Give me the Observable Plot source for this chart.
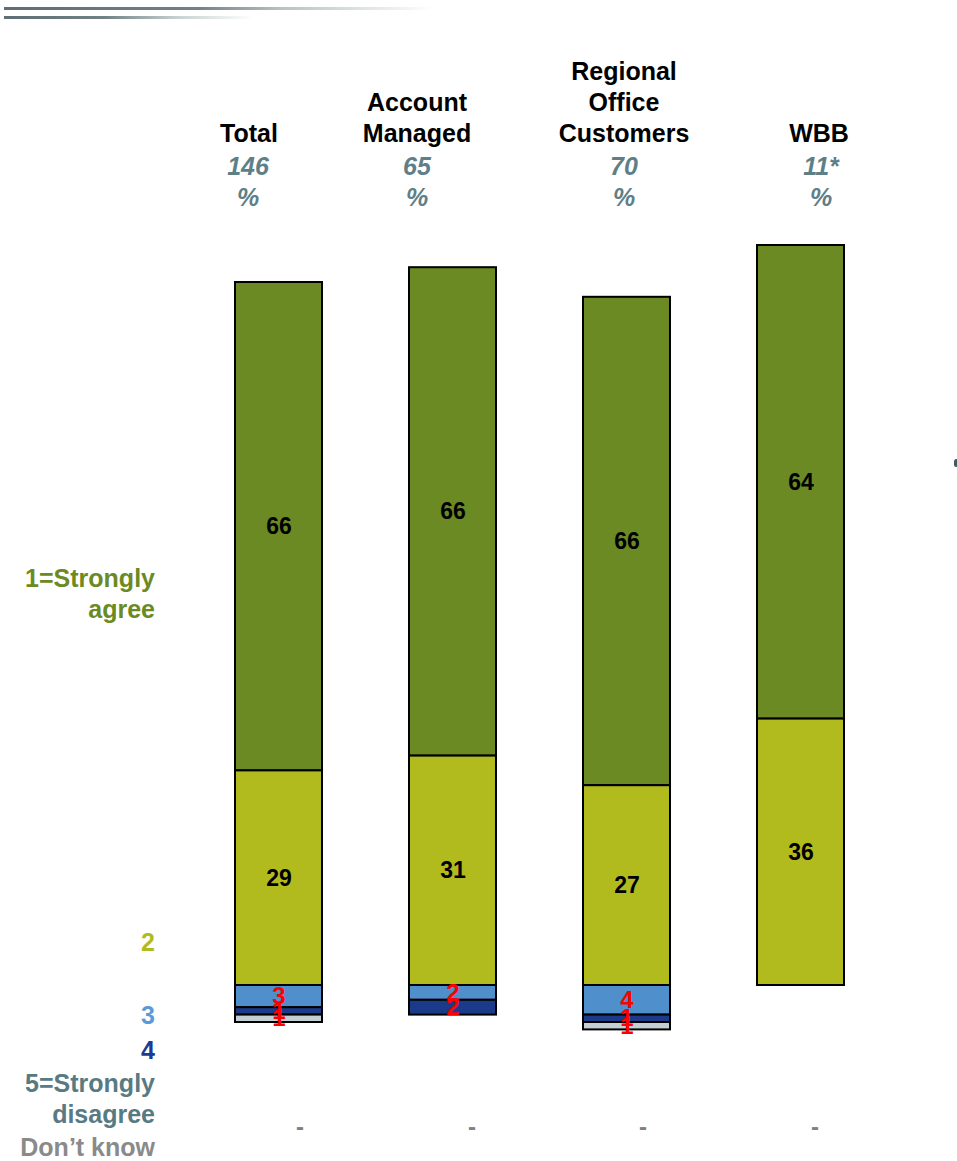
<!DOCTYPE html>
<html>
<head>
<meta charset="utf-8">
<script src="https://cdn.jsdelivr.net/npm/d3@7"></script>
<script src="https://cdn.jsdelivr.net/npm/@observablehq/plot@0.6"></script>
<style>
  html, body { margin: 0; padding: 0; background: #fff; }
  #wrap { position: relative; width: 957px; height: 1161px; overflow: hidden; font-family: "Liberation Sans", Arial, sans-serif; }
  #chart { position: absolute; left: 0; top: 0; }
  .deco { position: absolute; height: 3px; }
  .leg { position: absolute; right: 802px; text-align: right; font-weight: bold; font-size: 25px; line-height: 31px; white-space: nowrap; }
</style>
</head>
<body>
<div id="wrap">
  <div class="deco" style="left:4px; top:7px; width:430px; background:linear-gradient(to right,#5d6f74 0%,#6f8286 45%,#b9c4c4 65%,rgba(255,255,255,0) 100%);"></div>
  <div class="deco" style="left:4px; top:16px; width:250px; background:linear-gradient(to right,#5d6f74 0%,#6f8286 40%,#c9d2d2 70%,rgba(255,255,255,0) 100%);"></div>
  <div id="chart"></div>
  <div id="legend"></div>
  <div style="position:absolute; left:954px; top:459px; width:5px; height:8px; border-radius:3px; background:#3f5a60;"></div>
</div>
<script>
// ---- data ----
const groups = ["Total", "Account Managed", "Regional Office Customers", "WBB"];
const groupLabels = ["Total", "Account\nManaged", "Regional\nOffice\nCustomers", "WBB"];
const baseSizes = ["146", "65", "70", "11*"];
const stronglyAgree = [66, 66, 66, 64];
const agree = [29, 31, 27, 36];
const neutral = [3, 2, 4, 0];
const disagree = [1, 2, 1, 0];
const stronglyDisagree = [1, 0, 1, 0];
const dontKnow = ["-", "-", "-", "-"];

const categories = ["1=Strongly agree", "2", "3", "4", "5=Strongly disagree"];
const catColors = ["#6b8a23", "#b2bb1e", "#4f8fcb", "#1b3a8a", "#c3cfd3"];
const legendColors = ["#6b8a23", "#b2bb1e", "#5b9bd5", "#1f3b8f", "#587a82", "#8a8a8a"];
const legendLabels = ["1=Strongly\nagree", "2", "3", "4", "5=Strongly\ndisagree", "Don’t know"];

// build table: agree side positive, disagree side negative
const seriesVals = [stronglyAgree, agree, neutral, disagree, stronglyDisagree];
const rows = [];
groups.forEach((g, i) => {
  categories.forEach((c, k) => {
    const v = seriesVals[k][i];
    if (v > 0) rows.push({group: g, cat: c, value: k < 2 ? v : -v, label: String(v), small: k >= 2});
  });
});
const stackOrder = ["2", "1=Strongly agree", "3", "4", "5=Strongly disagree"];

// header text boxes are offset from the bar centres in the original layout
const headerShift = [-30, -36, -3, 18];
const baseShift = [-31, -36, -3, 20];
const dashShift = [21, 19, 16, 14];

const W = 957, H = 1161;
const stackOpts = {x: "group", y: "value", z: "cat", order: stackOrder};

const headerMarks = groups.flatMap((g, i) => [
  Plot.text([g], {x: d => d, text: () => groupLabels[i], frameAnchor: "top", lineAnchor: "bottom", dy: 141, dx: headerShift[i], fontWeight: "bold", fontSize: 25, lineHeight: 1.24, fill: "#000"}),
  Plot.text([g], {x: d => d, text: () => baseSizes[i], frameAnchor: "top", lineAnchor: "middle", dy: 166, dx: baseShift[i], fontWeight: "bold", fontStyle: "italic", fontSize: 25, fill: "#5f7f88"}),
  Plot.text([g], {x: d => d, text: () => "%", frameAnchor: "top", lineAnchor: "middle", dy: 197, dx: baseShift[i], fontWeight: "bold", fontStyle: "italic", fontSize: 25, fill: "#5f7f88"}),
  Plot.text([g], {x: d => d, text: () => dontKnow[i], frameAnchor: "bottom", lineAnchor: "middle", dy: -34, dx: dashShift[i], fontWeight: "bold", fontSize: 24, fill: "#808080"})
]);

const plot = Plot.plot({
  width: W,
  height: H,
  marginTop: 0, marginBottom: 0, marginLeft: 148, marginRight: 26,
  style: {fontFamily: "Liberation Sans, Arial, sans-serif", background: "transparent", overflow: "visible"},
  x: {domain: groups, padding: 0.5, axis: null},
  y: {domain: [0, 100], range: [985, 245], axis: null},
  color: {domain: categories, range: catColors},
  marks: [
    Plot.barY(rows, Plot.stackY({...stackOpts, fill: "cat", stroke: "#000", strokeWidth: 2})),
    Plot.text(rows.filter(d => !d.small), Plot.stackY({...stackOpts, text: "label", fill: "#000", fontWeight: "bold", fontSize: 23})),
    Plot.text(rows, Plot.stackY({...stackOpts, text: d => d.small ? d.label : "", fill: "#ff0000", fontWeight: "bold", fontSize: 24})),
    ...headerMarks
  ]
});
document.getElementById("chart").appendChild(plot);

// legend labels on the left
const legendTops = [563, 927, 1000, 1035, 1068, 1132];
const legend = document.getElementById("legend");
legendLabels.forEach((t, i) => {
  const div = document.createElement("div");
  div.className = "leg";
  div.style.top = legendTops[i] + "px";
  div.style.color = legendColors[i];
  div.innerHTML = t.split("\n").join("<br>");
  legend.appendChild(div);
});
</script>
</body>
</html>
